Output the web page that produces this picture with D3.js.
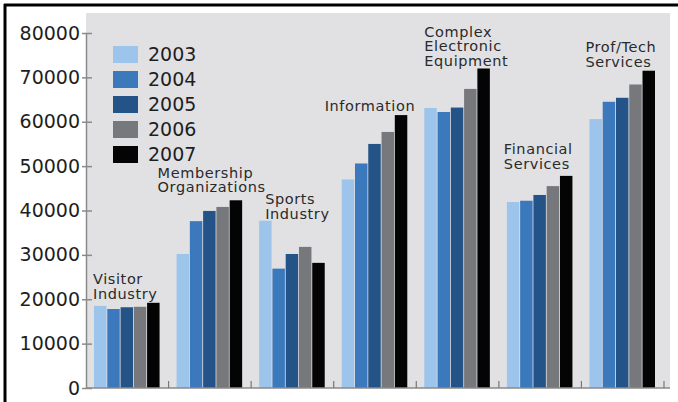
<!DOCTYPE html>
<html>
<head>
<meta charset="utf-8">
<script src="https://cdn.jsdelivr.net/npm/d3@7"></script>
<style>
  html, body { margin: 0; padding: 0; background: #fff; }
  svg { display: block; }
  text { font-family: "DejaVu Sans", Verdana, sans-serif; fill: #1e1e1e; }
</style>
</head>
<body>
<svg id="grafica" width="678" height="402"></svg>
<script>
// datos
const categorias = ["Visitor Industry", "Membership Organizations", "Sports Industry",
  "Information", "Complex Electronic Equipment", "Financial Services", "Prof/Tech Services"];
const etiquetas = [["Visitor", "Industry"], ["Membership", "Organizations"], ["Sports", "Industry"],
  ["Information"], ["Complex", "Electronic", "Equipment"], ["Financial", "Services"], ["Prof/Tech", "Services"]];
const anios = ["2003", "2004", "2005", "2006", "2007"];
const v2003 = [18500, 30200, 37700, 47000, 63100, 41900, 60600];
const v2004 = [17800, 37600, 26900, 50600, 62200, 42200, 64500];
const v2005 = [18200, 39900, 30200, 55000, 63200, 43500, 65400];
const v2006 = [18300, 40800, 31800, 57700, 67400, 45500, 68400];
const v2007 = [19200, 42300, 28200, 61500, 72000, 47800, 71500];
const yTicks = [0, 10000, 20000, 30000, 40000, 50000, 60000, 70000, 80000];

const series = [v2003, v2004, v2005, v2006, v2007];
const colores = ["#9dc4ea", "#3b79bc", "#245387", "#77787b", "#040404"];

const svg = d3.select('#grafica');

const izq = 86, der = 664, abajo = 388, arriba = 33;

const x0 = d3.scaleBand().domain(categorias).range([izq, der]).padding(0);
const x1 = d3.scaleBand().domain(anios).range([8, x0.bandwidth() - 9]).paddingInner(0.06);
const y  = d3.scaleLinear().domain([0, 80000]).range([abajo, arriba]);

// fondo gris
svg.append('rect')
  .attr('x', izq).attr('y', 13)
  .attr('width', 670 - izq).attr('height', abajo - 13)
  .attr('fill', '#e1e1e4');

// marco negro
svg.append('line').attr('x1', 4).attr('x2', 678).attr('y1', 5).attr('y2', 5)
  .attr('stroke', '#000').attr('stroke-width', 3);
svg.append('line').attr('x1', 5).attr('x2', 5).attr('y1', 4).attr('y2', 402)
  .attr('stroke', '#000').attr('stroke-width', 3);

// barras
const grupos = svg.selectAll('g.grupo')
  .data(categorias)
  .join('g')
  .attr('class', 'grupo')
  .attr('transform', d => `translate(${x0(d)},0)`);

grupos.selectAll('rect')
  .data((d, i) => anios.map((a, j) => ({ anio: a, valor: series[j][i], color: colores[j] })))
  .join('rect')
  .attr('x', d => x1(d.anio))
  .attr('y', d => y(d.valor))
  .attr('width', x1.bandwidth())
  .attr('height', d => abajo - y(d.valor))
  .attr('fill', d => d.color);

// eje y
const ejeY = svg.append('g')
  .attr('transform', `translate(${izq},0)`)
  .call(d3.axisLeft(y).tickValues(yTicks).tickFormat(d3.format('d')).tickSize(0).tickPadding(6));
ejeY.select('.domain').attr('stroke', '#8a8a8a').attr('stroke-width', 1.5);
ejeY.selectAll('.tick line').attr('x1', -4).attr('x2', 6).attr('stroke', '#8a8a8a').attr('stroke-width', 1.5);
ejeY.selectAll('.tick text')
  .attr('font-size', 19)
  .attr('font-family', '"DejaVu Sans", Verdana, sans-serif')
  .attr('fill', '#1e1e1e');

// eje x
svg.append('line').attr('x1', izq).attr('x2', 670).attr('y1', abajo).attr('y2', abajo)
  .attr('stroke', '#8a8a8a').attr('stroke-width', 1.5);
svg.selectAll('line.marca')
  .data(categorias)
  .join('line')
  .attr('class', 'marca')
  .attr('x1', d => x0(d) + x0.bandwidth())
  .attr('x2', d => x0(d) + x0.bandwidth())
  .attr('y1', abajo).attr('y2', abajo - 7)
  .attr('stroke', '#777').attr('stroke-width', 1.2);

// etiquetas de categorias
const desplazaX = [7, -11, 14, -9, 8, 5, 4];
const desplazaY = [-4, -8, -2, -4, -3, -7, -4];
categorias.forEach((c, i) => {
  const lineas = etiquetas[i];
  const maximo = d3.max(series, s => s[i]);
  const base = y(maximo) + desplazaY[i];
  const t = svg.append('text')
    .attr('x', x0(c) + desplazaX[i])
    .attr('font-size', 14.5)
    .attr('letter-spacing', 0.6)
    .style('fill', '#2a2a2a');
  lineas.forEach((l, k) => {
    t.append('tspan')
      .attr('x', x0(c) + desplazaX[i])
      .attr('y', base - (lineas.length - 1 - k) * 14.5)
      .text(l);
  });
});

// leyenda
const leyenda = svg.append('g').attr('transform', 'translate(113,46)');
anios.forEach((a, i) => {
  leyenda.append('rect')
    .attr('x', 0).attr('y', i * 25)
    .attr('width', 25).attr('height', 17)
    .attr('fill', colores[i]);
  leyenda.append('text')
    .attr('x', 35).attr('y', i * 25 + 15)
    .attr('font-size', 19)
    .text(a);
});
</script>
</body>
</html>
